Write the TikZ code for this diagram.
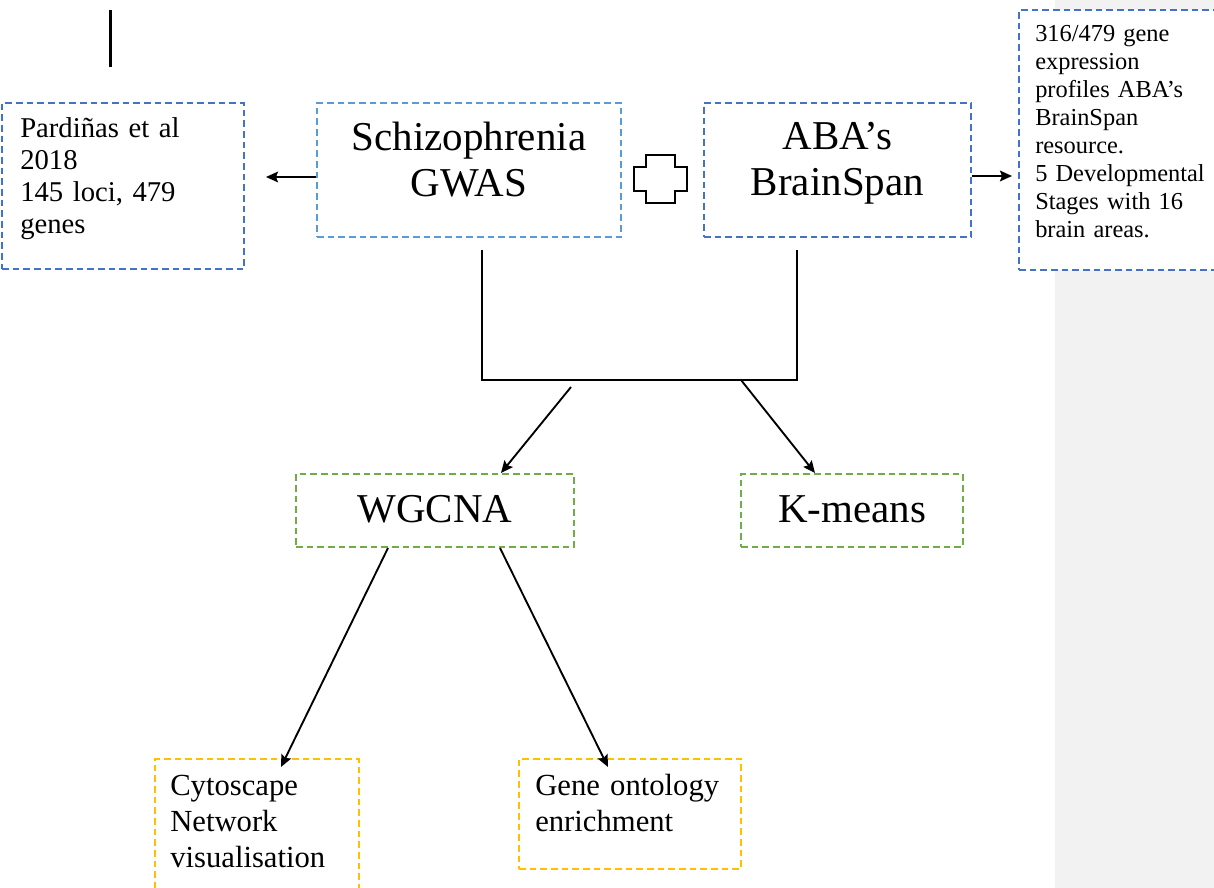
\documentclass[tikz,border=0pt]{standalone}
\usepackage{fontspec}
\setmainfont{Liberation Serif}
\usepackage{tikz}
\usetikzlibrary{arrows.meta}

\definecolor{boxblue}{RGB}{68,114,196}
\definecolor{lightblue}{RGB}{91,155,213}
\definecolor{boxgreen}{RGB}{112,173,71}
\definecolor{boxgold}{RGB}{255,192,0}
\definecolor{panelgray}{RGB}{242,242,242}
\newcommand{\pxu}{0.75pt}

\tikzset{
  dashbox/.style={draw, line width=1.5pt, dash pattern={on 5pt off 3pt}, fill=white, inner sep=0pt},
  plainline/.style={line width=1.4pt},
  arr/.style={line width=1.4pt, -{Stealth[length=9pt,width=8pt,inset=1.5pt]}},
  bigtext/.style={inner sep=0pt, align=center, text width=290*\pxu, font=\fontsize{30.75}{34.5}\selectfont},
  midtext/.style={inner sep=0pt, align=left, text width=220*\pxu, font=\fontsize{21.5}{24}\selectfont},
  smalltext/.style={inner sep=0pt, align=left, text width=190*\pxu, font=\fontsize{18.3}{21}\selectfont},
  lowtext/.style={inner sep=0pt, align=left, text width=200*\pxu, font=\fontsize{23}{27}\selectfont}
}

\begin{document}
\begin{tikzpicture}[x=0.75pt,y=0.75pt,yscale=-1,xscale=1]
\clip (0,0) rectangle (1214,888);
%Side panel
\fill [panelgray] (1055,0) rectangle (1214,888);
%Stray bar
\coordinate (barTop) at (110.5,10);
\coordinate (barBot) at (110.5,67);
\draw [line width=1.9pt] (barTop) -- (barBot);

%Boxes
\node [dashbox, draw=boxblue, minimum width=242*\pxu, minimum height=166*\pxu] (pard) at (123,186) {};
\node [dashbox, draw=lightblue, minimum width=304*\pxu, minimum height=134*\pxu] (schizo) at (469,170) {};
\node [dashbox, draw=boxblue, minimum width=267*\pxu, minimum height=134*\pxu] (aba) at (837.5,170) {};
\node [dashbox, draw=boxblue, minimum width=221*\pxu, minimum height=260*\pxu] (info) at (1129.5,140) {};
\node [dashbox, draw=boxgreen, minimum width=278*\pxu, minimum height=73*\pxu] (wgcna) at (435,510.5) {};
\node [dashbox, draw=boxgreen, minimum width=222*\pxu, minimum height=73*\pxu] (kmeans) at (852,510.5) {};
\node [dashbox, draw=boxgold, minimum width=204*\pxu, minimum height=141*\pxu] (cyto) at (257,829.5) {};
\node [dashbox, draw=boxgold, minimum width=222*\pxu, minimum height=110*\pxu] (geneont) at (630,814) {};

%Plus sign
\draw [line width=1.3pt] (646,155) -- (675,155) -- (675,167) -- (687,167) -- (687,191) -- (675,191) -- (675,203) -- (646,203) -- (646,191) -- (634,191) -- (634,167) -- (646,167) -- cycle;

% Text Node
\draw (20,138) node [anchor=base west, midtext] (pardtext) {Pardiñas et al\\2018\\145 loci, 479\\genes};
% Text Node
\draw (469,151) node [anchor=base, bigtext] (schizotext) {Schizophrenia\\GWAS};
% Text Node
\draw (837.5,150) node [anchor=base, bigtext] (abatext) {ABA’s\\BrainSpan};
% Text Node
\draw (1035,42) node [anchor=base west, smalltext] (infotext) {316/479 gene\\expression\\profiles ABA’s\\BrainSpan\\resource.\\5 Developmental\\Stages with 16\\brain areas.};
% Text Node
\draw (435,522) node [anchor=base, bigtext] (wgcnatext) {WGCNA};
% Text Node
\draw (852,522) node [anchor=base, bigtext] (kmeanstext) {K-means};
% Text Node
\draw (170,795) node [anchor=base west, lowtext] (cytotext) {Cytoscape\\Network\\visualisation};
% Text Node
\draw (535,795) node [anchor=base west, lowtext] (genetext) {Gene ontology\\enrichment};

%Side arrows
\draw [arr, shorten >=21*\pxu] ([yshift=7*\pxu]schizo.west) -- ([yshift=7*\pxu]schizo.west -| pard.east);
\draw [arr, shorten >=6*\pxu] ([yshift=6*\pxu]aba.east) -- ([yshift=6*\pxu]aba.east -| info.west);

%Joining bracket
\coordinate (legL) at (482,250);
\coordinate (joinL) at (482,380);
\coordinate (joinR) at (797,380);
\coordinate (legR) at (797,250);
\draw [plainline] (legL) -- (joinL) -- (joinR) -- (legR);

%Down arrows
\coordinate (fromW) at (571,387);
\coordinate (fromK) at (741,380);
\draw [arr] (fromW) -- ([xshift=66*\pxu]wgcna.north);
\draw [arr] (fromK) -- ([xshift=-37*\pxu]kmeans.north);
\draw [arr] ([xshift=-47*\pxu]wgcna.south) -- ([xshift=24*\pxu,yshift=9*\pxu]cyto.north);
\draw [arr] ([xshift=65*\pxu]wgcna.south) -- ([xshift=-22*\pxu,yshift=9*\pxu]geneont.north);
\end{tikzpicture}
\end{document}
